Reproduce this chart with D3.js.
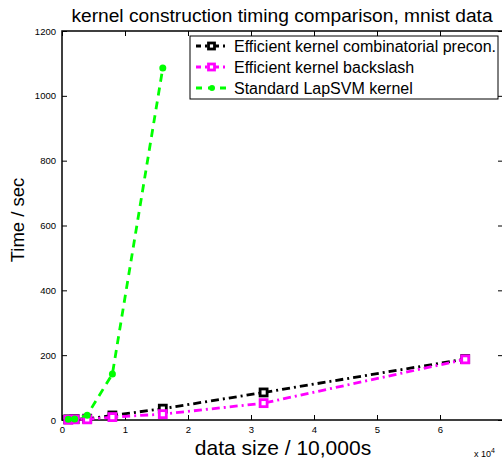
<!DOCTYPE html>
<html><head><meta charset="utf-8">
<script src="https://cdn.jsdelivr.net/npm/d3@7"></script>
<style>body{margin:0;background:#fff}svg{display:block}text{font-family:"Liberation Sans",Arial,sans-serif}</style>
</head><body><svg id="c" width="502" height="460"></svg>
<script>
const sizes = [1000, 2000, 4000, 8000, 16000, 32000, 64000];
const precon = [2, 3, 4, 14, 35, 85, 188];
const backslash = [1, 2, 2, 9, 18, 52, 187];
const lapsvmSizes = [1000, 2000, 4000, 8000, 16000];
const lapsvm = [2, 3, 15, 142, 1086];
const xTicks = [0, 10000, 20000, 30000, 40000, 50000, 60000, 70000];
const xTickLabels = ["0", "1", "2", "3", "4", "5", "6", ""];
const yTicks = [0, 200, 400, 600, 800, 1000, 1200];
const seriesNames = ["Efficient kernel combinatorial precon.", "Efficient kernel backslash", "Standard LapSVM kernel"];

const svg = d3.select("#c");
const L = 62, R = 503, T = 31, B = 420;
const x = d3.scaleLinear().domain([0, 70000]).range([L, R]);
const y = d3.scaleLinear().domain([0, 1200]).range([B, T]);

svg.append("rect").attr("x", L).attr("y", T).attr("width", R - L).attr("height", B - T)
  .attr("fill", "none").attr("stroke", "#000").attr("stroke-width", 1.5);

const xb = svg.append("g").attr("transform", `translate(0,${B})`)
  .call(d3.axisBottom(x).tickValues(xTicks).tickSize(-5).tickPadding(6).tickFormat((d, i) => xTickLabels[i]));
const xt = svg.append("g").attr("transform", `translate(0,${T})`)
  .call(d3.axisTop(x).tickValues(xTicks).tickSize(-5).tickFormat(""));
const yl = svg.append("g").attr("transform", `translate(${L},0)`)
  .call(d3.axisLeft(y).tickValues(yTicks).tickSize(-5).tickPadding(6).tickFormat(d3.format("d")));
const yr = svg.append("g").attr("transform", `translate(${R},0)`)
  .call(d3.axisRight(y).tickValues(yTicks).tickSize(-5).tickFormat(""));
[xb, xt, yl, yr].forEach(g => {
  g.select(".domain").remove();
  g.selectAll("line").attr("stroke", "#000").attr("stroke-width", 1);
  g.selectAll("text").attr("font-size", 9.5).attr("fill", "#000")
    .attr("font-family", "Liberation Sans, Arial, sans-serif");
});

const line = (xs) => d3.line().x((d, i) => x(xs[i])).y(d => y(d));
function drawSeries(xs, ys, color, dash, marker) {
  svg.append("path").datum(ys).attr("d", line(xs)).attr("fill", "none")
    .attr("stroke", color).attr("stroke-width", 2.8).attr("stroke-dasharray", dash);
  const g = svg.append("g");
  if (marker === "square") {
    g.selectAll("rect").data(ys).join("rect")
      .attr("x", (d, i) => x(xs[i]) - 3.5).attr("y", d => y(d) - 3.5)
      .attr("width", 7).attr("height", 7)
      .attr("fill", "#fff").attr("stroke", color).attr("stroke-width", 2.8);
  } else {
    g.selectAll("circle").data(ys).join("circle")
      .attr("cx", (d, i) => x(xs[i])).attr("cy", d => y(d)).attr("r", 3.5)
      .attr("fill", color);
  }
}
drawSeries(sizes, precon, "#000", "8,4,2,4", "square");
drawSeries(sizes, backslash, "#ff00ff", "8,4,2,4", "square");
drawSeries(lapsvmSizes, lapsvm, "#00ff00", "8,6", "circle");

const lg = svg.append("g");
lg.append("rect").attr("x", 190).attr("y", 36).attr("width", 308).attr("height", 63)
  .attr("fill", "#fff").attr("stroke", "#000").attr("stroke-width", 1);
const legColors = ["#000", "#ff00ff", "#00ff00"];
const legDash = ["8,4,2,4", "8,4,2,4", "6,6"];
const legMarker = ["square", "square", "circle"];
seriesNames.forEach((n, i) => {
  const yy = 46 + i * 21;
  lg.append("line").attr("x1", 196).attr("x2", 228).attr("y1", yy).attr("y2", yy)
    .attr("stroke", legColors[i]).attr("stroke-width", 2.8).attr("stroke-dasharray", legDash[i])
    .attr("stroke-dashoffset", i < 2 ? 3 : 0);
  if (legMarker[i] === "square") {
    lg.append("rect").attr("x", 208.5).attr("y", yy - 3).attr("width", 6).attr("height", 6)
      .attr("fill", "#fff").attr("stroke", legColors[i]).attr("stroke-width", 2.8);
  } else {
    lg.append("circle").attr("cx", 212).attr("cy", yy).attr("r", 3).attr("fill", legColors[i]);
  }
  lg.append("text").attr("x", 234).attr("y", yy + 5.5).attr("font-size", 16).text(n);
});

svg.append("text").attr("x", 282).attr("y", 22).attr("text-anchor", "middle")
  .attr("font-size", 19.2).text("kernel construction timing comparison, mnist data");
svg.append("text").attr("x", 283).attr("y", 455).attr("text-anchor", "middle")
  .attr("font-size", 21).text("data size / 10,000s");
svg.append("text").attr("transform", "translate(24,220) rotate(-90)").attr("text-anchor", "middle")
  .attr("font-size", 18.5).text("Time / sec");
const mult = svg.append("text").attr("x", 474).attr("y", 457).attr("font-size", 9);
mult.append("tspan").text("x 10");
mult.append("tspan").attr("dy", -4).attr("font-size", 7).text("4");
</script></body></html>
